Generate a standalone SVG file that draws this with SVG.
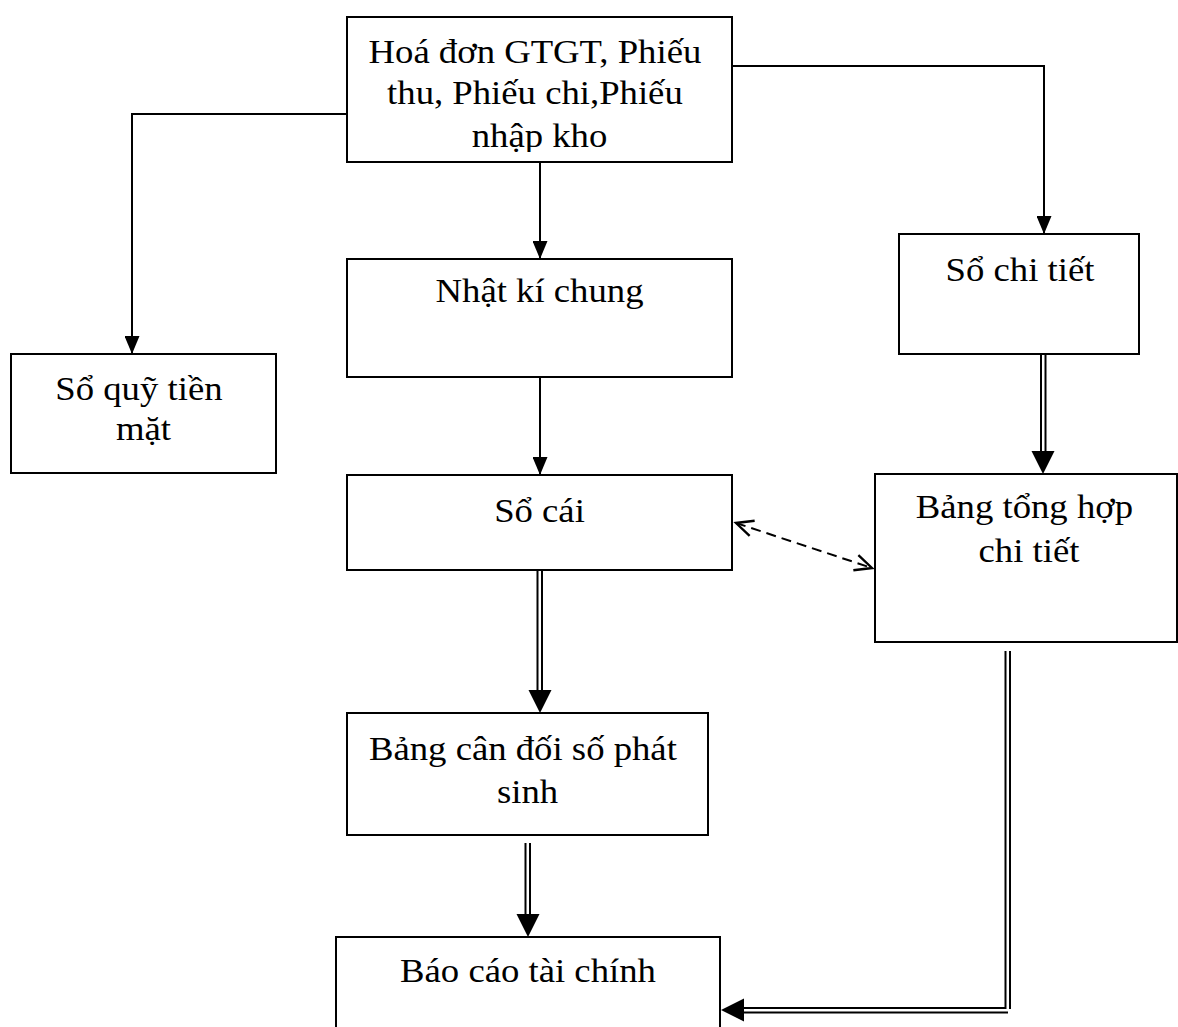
<svg xmlns="http://www.w3.org/2000/svg" xmlns:xlink="http://www.w3.org/1999/xlink" width="1178" height="1027" viewBox="0 0 1178 1027">
  <style>
    .box { fill: #ffffff; stroke: #000000; stroke-width: 2; }
    .lbl { font-family: "Liberation Serif", "Times New Roman", serif; font-size: 34px; fill: #000000; text-anchor: middle; }
    .ln { fill: none; stroke: #000000; stroke-width: 2; }
    .dbl { fill: none; stroke: #000000; stroke-width: 2; }
    .dash { fill: none; stroke: #000000; stroke-width: 2; stroke-dasharray: 10 6; }
    .head { fill: #000000; stroke: none; }
  </style>
  <defs>
    <!-- filled arrowhead for single-line connectors -->
    <marker id="tri" markerUnits="userSpaceOnUse" markerWidth="18" markerHeight="15" refX="18" refY="7.5" orient="auto">
      <path d="M0,0 L18,7.5 L0,15 Z" fill="#000000"/>
    </marker>
    <!-- open arrowhead for the dashed two-way link -->
    <marker id="vee" markerUnits="userSpaceOnUse" markerWidth="22" markerHeight="22" refX="19" refY="10" orient="auto-start-reverse">
      <path d="M2,2 L19,10 L2,18" fill="none" stroke="#000000" stroke-width="2.4"/>
    </marker>
    <!-- large filled arrowhead for double-line connectors, tip at origin pointing down -->
    <path id="bighead" d="M-11.5,-23 L11.5,-23 L0,0 Z"/>
    <clipPath id="srcClip">
      <rect x="347" y="17" width="385" height="135"/>
    </clipPath>
  </defs>

  <g id="connectors">
    <!-- source documents -> cash book -->
    <path class="ln" d="M347,114 H132 V354" marker-end="url(#tri)"/>
    <!-- source documents -> general journal -->
    <path class="ln" d="M540,162 V259" marker-end="url(#tri)"/>
    <!-- source documents -> detail ledgers -->
    <path class="ln" d="M732,66 H1044 V234" marker-end="url(#tri)"/>
    <!-- general journal -> general ledger -->
    <path class="ln" d="M540,377 V475" marker-end="url(#tri)"/>
    <!-- general ledger <-> detail summary -->
    <path class="dash" d="M736,523 L872,568" marker-start="url(#vee)" marker-end="url(#vee)"/>
    <!-- detail ledgers => detail summary -->
    <path class="dbl" d="M1041,354 V452 M1045.5,354 V452"/>
    <use xlink:href="#bighead" class="head" transform="translate(1043,474)"/>
    <!-- general ledger => trial balance -->
    <path class="dbl" d="M537.5,570 V692 M542,570 V692"/>
    <use xlink:href="#bighead" class="head" transform="translate(540,713)"/>
    <!-- trial balance => financial statements -->
    <path class="dbl" d="M525.5,843 V915 M530,843 V915"/>
    <use xlink:href="#bighead" class="head" transform="translate(528,937)"/>
    <!-- detail summary => financial statements -->
    <path class="dbl" d="M1005.5,651 V1009 M1010,651 V1009 M742,1008 H1006 M742,1012.5 H1008"/>
    <use xlink:href="#bighead" class="head" transform="translate(721,1010) rotate(90)"/>
  </g>

  <g id="node-chungtu">
    <rect class="box" x="347" y="17" width="385" height="145"/>
    <g clip-path="url(#srcClip)">
      <text class="lbl" transform="translate(539.5,63) scale(1.08,1)">
        <tspan x="0" y="0">Hoá đơn GTGT, Phiếu</tspan>
        <tspan x="0" y="41">thu, Phiếu chi,Phiếu</tspan>
        <tspan x="0" y="84">nhập kho</tspan>
      </text>
    </g>
  </g>

  <g id="node-soquy">
    <rect class="box" x="11" y="354" width="265" height="119"/>
    <text class="lbl" transform="translate(143.5,400) scale(1.08,1)">
      <tspan x="0" y="0">Sổ quỹ tiền</tspan>
      <tspan x="0" y="40">mặt</tspan>
    </text>
  </g>

  <g id="node-nhatki">
    <rect class="box" x="347" y="259" width="385" height="118"/>
    <text class="lbl" transform="translate(539.5,302) scale(1.08,1)">Nhật kí chung</text>
  </g>

  <g id="node-sochitiet">
    <rect class="box" x="899" y="234" width="240" height="120"/>
    <text class="lbl" transform="translate(1020,281) scale(1.08,1)">Sổ chi tiết</text>
  </g>

  <g id="node-socai">
    <rect class="box" x="347" y="475" width="385" height="95"/>
    <text class="lbl" transform="translate(539.5,522) scale(1.08,1)">Sổ cái</text>
  </g>

  <g id="node-tonghop">
    <rect class="box" x="875" y="474" width="302" height="168"/>
    <text class="lbl" transform="translate(1029,518) scale(1.08,1)">
      <tspan x="0" y="0">Bảng tổng hợp</tspan>
      <tspan x="0" y="44">chi tiết</tspan>
    </text>
  </g>

  <g id="node-candoi">
    <rect class="box" x="347" y="713" width="361" height="122"/>
    <text class="lbl" transform="translate(527.5,760) scale(1.08,1)">
      <tspan x="0" y="0">Bảng cân đối số phát</tspan>
      <tspan x="0" y="43">sinh</tspan>
    </text>
  </g>

  <g id="node-baocao">
    <path class="box" d="M336,1030 V937 H720 V1030"/>
    <text class="lbl" transform="translate(528,982) scale(1.08,1)">Báo cáo tài chính</text>
  </g>
</svg>
